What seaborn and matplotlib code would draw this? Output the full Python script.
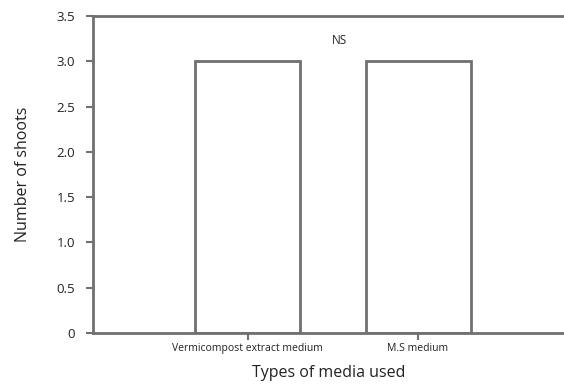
import numpy as np
import pandas as pd
import seaborn as sns
import matplotlib.pyplot as plt

sns.set_style("white")
plt.rcParams['font.family'] = ['Open Sans', 'DejaVu Sans']

media = ['Vermicompost extract medium', 'M.S medium']
shoots = [3.0, 3.0]
yticks = [0, 0.5, 1.0, 1.5, 2.0, 2.5, 3.0, 3.5]
ytick_labels = ['0', '0.5', '1.0', '1.5', '2.0', '2.5', '3.0', '3.5']

df = pd.DataFrame({'media': media, 'shoots': shoots})
line_col = '#707070'

fig = plt.figure(figsize=(5.64, 3.85), dpi=100)
ax = fig.add_axes([0.165, 0.135, 0.835, 0.823])

sns.barplot(data=df, x='media', y='shoots', color='white', edgecolor=line_col,
            linewidth=2, width=0.616, ax=ax)

ax.set_xlim(-0.906, 1.856)
ax.set_ylim(0, 3.5)
ax.set_yticks(yticks)
ax.set_yticklabels(ytick_labels, fontsize=9.5)
ax.tick_params(axis='x', labelsize=7.5, length=5, width=1.5, color=line_col, direction='out', pad=2)
ax.tick_params(axis='y', length=5, width=1.5, color=line_col, direction='out', pad=8)
ax.tick_params(bottom=True, left=True, labelcolor='#222222')

for s in ['left', 'bottom', 'top']:
    ax.spines[s].set_color(line_col)
    ax.spines[s].set_linewidth(2)
ax.spines['right'].set_visible(False)

ax.set_xlabel('Types of media used', fontsize=11.5, labelpad=8, color='#222222')
ax.set_ylabel('Number of shoots', fontsize=11.5, labelpad=18, color='#222222')
ax.text(0.54, 3.23, 'NS', fontsize=8.5, ha='center', va='center', color='#222222')

fig.savefig('out.png', dpi=100)
